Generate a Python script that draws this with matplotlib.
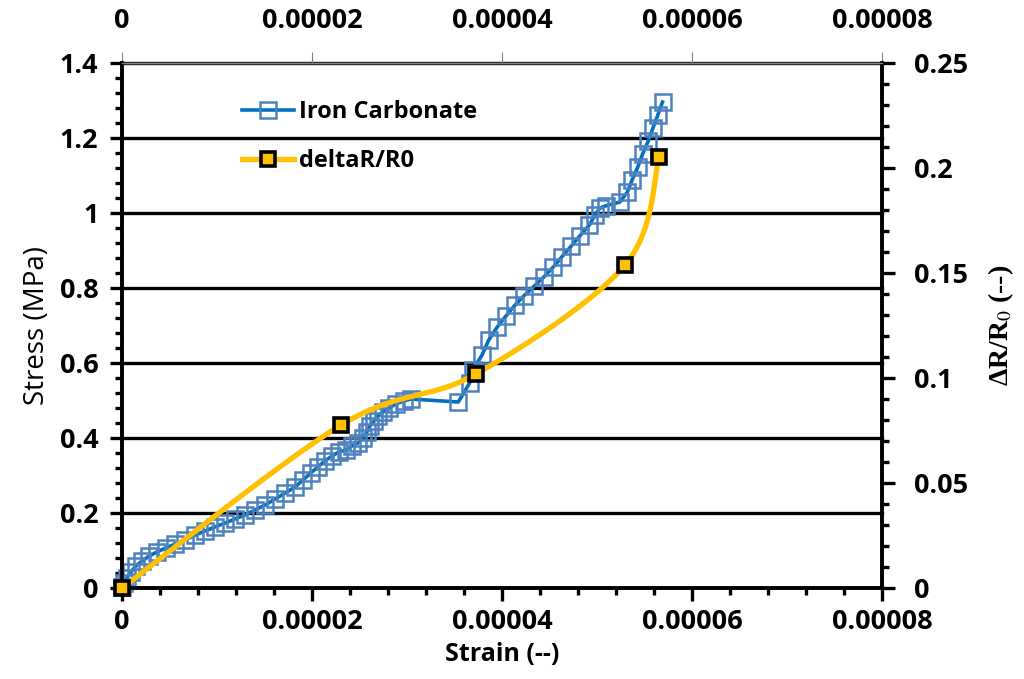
import numpy as np
import matplotlib
matplotlib.use('Agg')
import matplotlib.pyplot as plt
from matplotlib.ticker import MultipleLocator

# Iron Carbonate: strain (--) vs stress (MPa)
strain_fe = [0, 0.021, 0.053, 0.095, 0.147, 0.211, 0.284, 0.368, 0.463, 0.558,
             0.663, 0.768, 0.874, 0.979, 1.084, 1.189, 1.295, 1.40, 1.505, 1.61,
             1.716, 1.821, 1.905, 1.989, 2.063, 2.137, 2.21, 2.284, 2.358, 2.421,
             2.484, 2.537, 2.579, 2.61, 2.653, 2.695, 2.747, 2.81, 2.884, 2.968,
             3.042, 3.54, 3.66, 3.69, 3.79, 3.86, 3.95, 4.04, 4.14, 4.23,
             4.34, 4.44, 4.54, 4.63, 4.73, 4.82, 4.92, 4.98, 5.03, 5.09,
             5.24, 5.32, 5.37, 5.43, 5.48, 5.54, 5.59, 5.64, 5.69]
stress_fe = [0.003, 0.013, 0.027, 0.043, 0.059, 0.072, 0.085, 0.096, 0.107, 0.117,
             0.128, 0.141, 0.152, 0.163, 0.173, 0.184, 0.195, 0.208, 0.221, 0.237,
             0.253, 0.269, 0.288, 0.307, 0.323, 0.339, 0.352, 0.363, 0.368, 0.379,
             0.387, 0.40, 0.416, 0.432, 0.445, 0.459, 0.469, 0.48, 0.491, 0.499,
             0.504, 0.496, 0.547, 0.581, 0.621, 0.661, 0.696, 0.725, 0.755, 0.779,
             0.805, 0.829, 0.856, 0.883, 0.912, 0.939, 0.968, 0.995, 1.013, 1.019,
             1.029, 1.056, 1.088, 1.123, 1.157, 1.192, 1.227, 1.261, 1.296]
strain_fe = [v * 1e-5 for v in strain_fe]

# deltaR/R0
strain_dr = [0, 2.305e-5, 3.726e-5, 5.295e-5, 5.653e-5]
dr = [0, 0.0776, 0.1019, 0.1538, 0.2052]

x_ticks = [0, 0.00002, 0.00004, 0.00006, 0.00008]
x_labels = ['0', '0.00002', '0.00004', '0.00006', '0.00008']
y_ticks = [0, 0.2, 0.4, 0.6, 0.8, 1.0, 1.2, 1.4]
y_labels = ['0', '0.2', '0.4', '0.6', '0.8', '1', '1.2', '1.4']
y2_ticks = [0, 0.05, 0.1, 0.15, 0.2, 0.25]
y2_labels = ['0', '0.05', '0.1', '0.15', '0.2', '0.25']

blue = '#0070C0'
blue_mk = '#4F81BD'
gold = '#FFC000'


def excel_smooth(x, y, xr, yr, n=40):
    # bezier smoothing like excel, done in normalised axes units
    p = np.column_stack([np.array(x) / xr, np.array(y) / yr])
    pts = np.vstack([p[0], p, p[-1]])
    out = []
    t = np.linspace(0, 1, n)[:, None]
    for i in range(1, len(pts) - 2):
        p0, p1, p2, p3 = pts[i - 1], pts[i], pts[i + 1], pts[i + 2]
        c1 = p1 + (p2 - p0) / 6
        c2 = p2 - (p3 - p1) / 6
        seg = ((1 - t) ** 3 * p1 + 3 * (1 - t) ** 2 * t * c1
               + 3 * (1 - t) * t ** 2 * c2 + t ** 3 * p2)
        out.append(seg)
    out = np.vstack(out)
    return out[:, 0] * xr, out[:, 1] * yr


plt.rcParams['font.family'] = ['Open Sans', 'DejaVu Sans']
plt.rcParams['mathtext.fontset'] = 'stix'

fig = plt.figure(figsize=(10.24, 6.79), dpi=100)
ax = fig.add_axes([0.1191, 0.134, 0.7422, 0.7732])
ax2 = ax.twinx()

ax.set_xlim(0, 0.00008)
ax.set_ylim(0, 1.4)
ax2.set_ylim(0, 0.25)

for yv in y_ticks[1:]:
    ax.axhline(yv, color='black', lw=2.4, zorder=0, clip_on=False)

l1, = ax.plot(strain_fe, stress_fe, color=blue, lw=2.6, marker='s',
              markersize=11, markerfacecolor='none', markeredgecolor=blue_mk,
              markeredgewidth=1.8, clip_on=False, zorder=3,
              label='Iron Carbonate')

sx, sy = excel_smooth(strain_dr, dr, 0.00008, 0.25)
ax2.plot(sx, sy, color=gold, lw=3.8, clip_on=False, zorder=3)
ax2.plot(strain_dr, dr, ls='none', marker='s', markersize=9.5,
         markerfacecolor=gold, markeredgecolor='black', markeredgewidth=2.6,
         clip_on=False, zorder=4)
l2, = ax2.plot([], [], color=gold, lw=3.8, marker='s', markersize=9.5,
               markerfacecolor=gold, markeredgecolor='black',
               markeredgewidth=2.6, label='deltaR/R0')

ax.set_xticks(x_ticks)
ax.set_xticklabels(x_labels)
ax.set_yticks(y_ticks)
ax.set_yticklabels(y_labels)
ax2.set_yticks(y2_ticks)
ax2.set_yticklabels(y2_labels)
ax.xaxis.set_minor_locator(MultipleLocator(0.000004))
ax.yaxis.set_minor_locator(MultipleLocator(0.04))
ax2.yaxis.set_minor_locator(MultipleLocator(0.01))

tick_font = dict(fontsize=19.5, fontweight='bold')
for lab in ax.get_xticklabels() + ax.get_yticklabels() + ax2.get_yticklabels():
    lab.set_fontsize(19.5)
    lab.set_fontweight('bold')

ax.tick_params(axis='x', which='major', direction='out', length=9, width=2.4, pad=6)
ax.tick_params(axis='x', which='minor', direction='out', length=5, width=2.4)
ax.tick_params(axis='y', which='major', direction='out', length=9, width=2.4, pad=8)
ax.tick_params(axis='y', which='minor', direction='out', length=5, width=2.4)
ax2.tick_params(axis='y', which='major', direction='out', length=9, width=2.4, pad=14)
ax2.tick_params(axis='y', which='minor', direction='out', length=5, width=2.4)

top = ax.secondary_xaxis('top')
top.set_xticks(x_ticks)
top.set_xticklabels(x_labels, **tick_font)
top.tick_params(direction='out', length=8, width=0.8, color='#808080', pad=13)
top.spines['top'].set_visible(False)

for a in (ax, ax2):
    for side in ('left', 'bottom', 'right'):
        a.spines[side].set_linewidth(2.6)
        a.spines[side].set_color('black')
    a.spines['top'].set_color('#7f7f7f')
    a.spines['top'].set_linewidth(1.0)

ax.set_xlabel('Strain (--)', fontsize=18, fontweight='bold', labelpad=5)
ax.set_ylabel('Stress (MPa)', fontsize=20, labelpad=6)
ax2.set_ylabel(r'ΔR/R$_0$ (--)', fontsize=20, fontweight='bold',
               family=['Liberation Serif', 'DejaVu Serif'], labelpad=13)

ax.set_zorder(ax2.get_zorder() - 1)
ax2.patch.set_visible(False)

ax2.legend(handles=[l1, l2], loc='upper left', bbox_to_anchor=(0.13, 0.97),
           frameon=False, prop={'size': 17, 'weight': 'bold'},
           handlelength=2.2, handletextpad=0.2, labelspacing=1.05)

fig.savefig('out.png', dpi=100)
